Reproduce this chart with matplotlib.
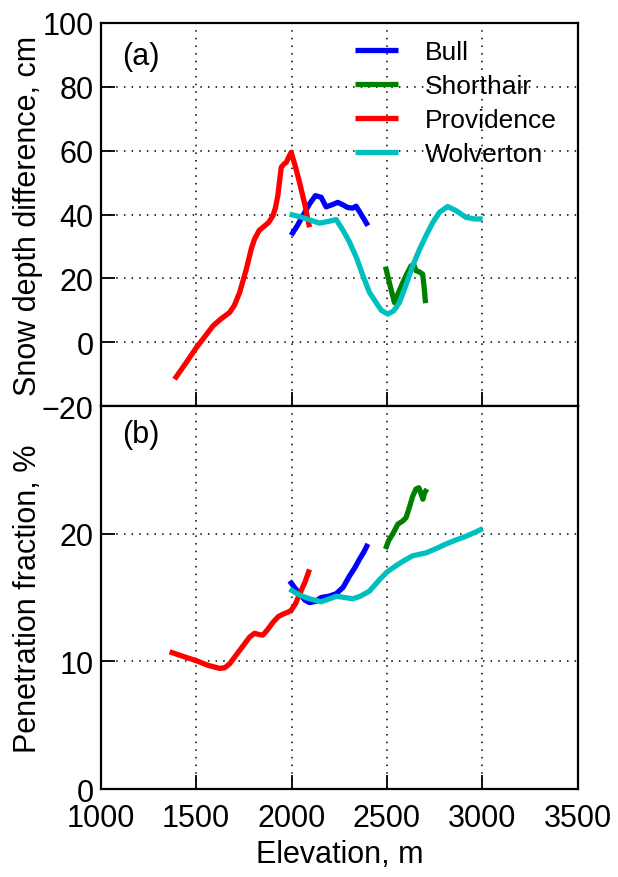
import matplotlib
matplotlib.use("Agg")
import matplotlib.pyplot as plt

plt.rcParams['font.family'] = ['Liberation Sans', 'DejaVu Sans']

# ---- Data: (a) snow depth difference, cm ----
bull_a_x = [1998, 2030, 2059, 2094, 2125, 2155, 2181, 2210, 2242, 2270, 2294, 2320, 2338, 2360, 2400]
bull_a_y = [33.5, 36.5, 39.6, 43.3, 45.9, 45.4, 42.4, 43.0, 43.8, 43.0, 42.2, 42.0, 42.6, 40.5, 36.5]

short_a_x = [2492, 2515, 2539, 2560, 2583, 2605, 2626, 2640, 2652, 2670, 2687, 2695, 2702]
short_a_y = [23.7, 18.0, 12.4, 15.5, 18.7, 21.5, 23.9, 24.3, 22.4, 22.0, 21.3, 17.0, 12.2]

prov_a_x = [1387, 1450, 1501, 1550, 1588, 1630, 1675, 1700, 1728, 1763, 1790, 1806, 1830, 1850,
            1880, 1902, 1915, 1928, 1938, 1946, 1960, 1972, 1985, 1998, 2020, 2042, 2070, 2094]
prov_a_y = [-11.6, -6.2, -1.7, 2.1, 5.1, 7.3, 9.3, 11.5, 15.6, 22.9, 29.5, 32.3, 35.0, 36.0,
            37.5, 39.6, 42.0, 45.9, 51.0, 54.8, 55.8, 56.3, 58.0, 59.5, 55.0, 50.0, 43.0, 36.0]

wolv_a_x = [1990, 2050, 2100, 2147, 2190, 2234, 2270, 2304, 2340, 2373, 2408, 2443, 2470, 2504,
            2535, 2565, 2600, 2635, 2670, 2705, 2740, 2775, 2818, 2862, 2914, 2960, 3001]
wolv_a_y = [40.1, 39.2, 38.2, 37.3, 37.8, 38.4, 35.0, 31.3, 26.5, 21.0, 15.6, 12.4, 10.0, 8.8,
            9.8, 12.4, 18.0, 24.0, 29.0, 33.4, 37.5, 40.7, 42.5, 41.2, 39.1, 38.6, 38.6]

# ---- Data: (b) penetration fraction, % ----
bull_b_x = [1990, 2020, 2042, 2070, 2094, 2125, 2155, 2195, 2234, 2270, 2304, 2330, 2356, 2380, 2400]
bull_b_y = [16.3, 15.7, 15.3, 14.8, 14.6, 14.7, 15.0, 15.1, 15.3, 15.8, 16.7, 17.3, 18.0, 18.6, 19.2]

short_b_x = [2492, 2510, 2531, 2557, 2583, 2600, 2618, 2635, 2652, 2667, 2679, 2688, 2697, 2709]
short_b_y = [18.8, 19.5, 20.0, 20.75, 21.0, 21.26, 22.1, 22.95, 23.5, 23.6, 23.1, 22.7, 23.2, 23.5]

prov_b_x = [1361, 1430, 1501, 1560, 1623, 1650, 1675, 1710, 1745, 1780, 1806, 1830, 1850, 1875,
            1902, 1930, 1955, 1980, 1998, 2020, 2042, 2070, 2094]
prov_b_y = [10.75, 10.4, 10.05, 9.7, 9.45, 9.5, 9.8, 10.5, 11.2, 11.9, 12.2, 12.1, 12.06, 12.5,
            13.05, 13.5, 13.7, 13.85, 14.0, 14.5, 15.27, 16.2, 17.2]

wolv_b_x = [1990, 2040, 2094, 2155, 2200, 2234, 2280, 2321, 2360, 2408, 2461, 2500, 2548, 2590,
            2635, 2705, 2760, 2810, 2860, 2914, 2960, 3002]
wolv_b_y = [15.66, 15.2, 14.9, 14.67, 14.9, 15.1, 15.0, 14.9, 15.1, 15.5, 16.4, 17.0, 17.5, 17.9,
            18.27, 18.5, 18.85, 19.2, 19.5, 19.8, 20.1, 20.4]

names = ['Bull', 'Shorthair', 'Providence', 'Wolverton']
colors = ['#0000ff', '#008000', '#ff0000', '#00bfbf']

x_ticks = [1000, 1500, 2000, 2500, 3000, 3500]
ya_ticks = [-20, 0, 20, 40, 60, 80, 100]
yb_ticks = [0, 10, 20]

fig = plt.figure(figsize=(6.18, 8.78), dpi=100)
ax1 = fig.add_axes([0.163, 0.5364, 0.772, 0.4363])
ax2 = fig.add_axes([0.163, 0.1002, 0.772, 0.4362])

series_a = [(bull_a_x, bull_a_y), (short_a_x, short_a_y), (prov_a_x, prov_a_y), (wolv_a_x, wolv_a_y)]
series_b = [(bull_b_x, bull_b_y), (short_b_x, short_b_y), (prov_b_x, prov_b_y), (wolv_b_x, wolv_b_y)]

for (x, y), c, n in zip(series_a, colors, names):
    ax1.plot(x, y, color=c, lw=3.8, label=n, solid_capstyle='butt', solid_joinstyle='round')
for (x, y), c in zip(series_b, colors):
    ax2.plot(x, y, color=c, lw=3.8, solid_capstyle='butt', solid_joinstyle='round')

for ax in (ax1, ax2):
    ax.set_xlim(1000, 3500)
    ax.set_xticks(x_ticks)
    ax.grid(True, color='black', linestyle=(0, (1, 4)), linewidth=1.1)
    ax.set_axisbelow(True)
    for s in ax.spines.values():
        s.set_linewidth(1.6)
    ax.tick_params(direction='in', length=10, width=1.3, labelsize=22,
                   top=False, right=False)
    ax.tick_params(axis='y', pad=5)
    ax.tick_params(axis='x', pad=10)

ax1.set_ylim(-20, 100)
ax1.set_yticks(ya_ticks)
ax1.tick_params(axis='x', labelbottom=False)
ax2.set_ylim(0, 30)
ax2.set_yticks(yb_ticks)

ax1.set_ylabel('Snow depth difference, cm', fontsize=22)
ax2.set_ylabel('Penetration fraction, %', fontsize=22)
ax1.yaxis.set_label_coords(-0.12, 0.5)
ax2.yaxis.set_label_coords(-0.12, 0.5)
ax2.set_xlabel('Elevation, m', fontsize=22)
ax2.xaxis.set_label_coords(0.5, -0.13)

ax1.text(0.044, 0.914, '(a)', transform=ax1.transAxes, fontsize=22, va='center', ha='left')
ax2.text(0.044, 0.927, '(b)', transform=ax2.transAxes, fontsize=22, va='center', ha='left')

leg = ax1.legend(loc='upper left', bbox_to_anchor=(0.532, 0.955), frameon=False,
                 fontsize=19, handlelength=1.65, handletextpad=1.0, labelspacing=0.38,
                 borderpad=0, borderaxespad=0)
for line in leg.get_lines():
    line.set_linewidth(3.8)

fig.savefig('out.png', dpi=100)
